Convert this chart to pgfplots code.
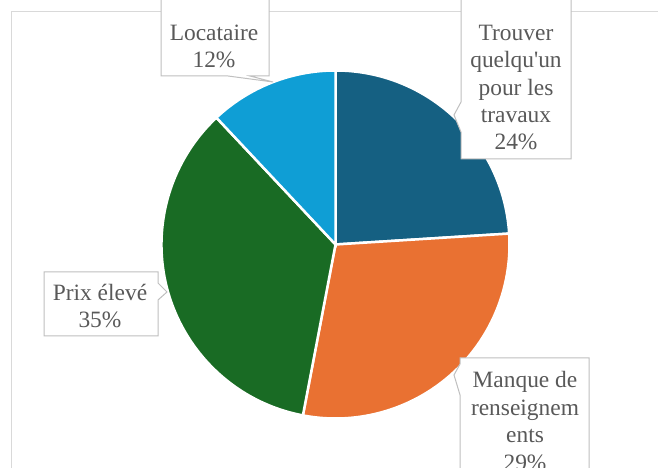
\documentclass[border=0pt]{standalone}
\usepackage{fontspec}
\setmainfont{Liberation Serif}[Ligatures=TeXOff]
\usepackage{pgfplots}
\usepackage{pgfplotstable}
\pgfplotsset{compat=1.18}

\definecolor{cTrouver}{HTML}{156082}
\definecolor{cManque}{HTML}{E97132}
\definecolor{cPrix}{HTML}{196B24}
\definecolor{cLoc}{HTML}{0F9ED5}
\definecolor{txt}{HTML}{595959}
\definecolor{boxline}{HTML}{BFBFBF}
\definecolor{frame}{HTML}{D9D9D9}

% share of each answer, in %
\pgfplotstableread[col sep=comma]{
label,value
Trouver,24
Manque,29
Prix,35
Locataire,12
}\piedata

\begin{document}
\begin{tikzpicture}
% slice angles, clockwise from 12 o'clock
\pgfplotstablegetelem{0}{value}\of\piedata \let\vA\pgfplotsretval
\pgfplotstablegetelem{1}{value}\of\piedata \let\vB\pgfplotsretval
\pgfplotstablegetelem{2}{value}\of\piedata \let\vC\pgfplotsretval
\pgfplotstablegetelem{3}{value}\of\piedata \let\vD\pgfplotsretval
\pgfmathsetmacro\aA{90}
\pgfmathsetmacro\aB{\aA-3.6*\vA}
\pgfmathsetmacro\aC{\aB-3.6*\vB}
\pgfmathsetmacro\aD{\aC-3.6*\vC}
\pgfmathsetmacro\aE{\aD-3.6*\vD}
\begin{axis}[
    scale only axis, width=658bp, height=468bp,
    x=1bp, y=1bp,
    xmin=0, xmax=658, ymin=0, ymax=468,
    hide axis,
    clip=true,
]
% chart frame
\draw[frame, line width=1bp] (axis cs:11,-20) -- (axis cs:11,456) -- (axis cs:680,456);
% wedges
\fill[cTrouver, draw=white, line width=2.5bp] (axis cs:335.5,223.5) -- ++(\aA:174bp) arc[start angle=\aA, end angle=\aB, radius=174bp] -- cycle;
\fill[cManque, draw=white, line width=2.5bp] (axis cs:335.5,223.5) -- ++(\aB:174bp) arc[start angle=\aB, end angle=\aC, radius=174bp] -- cycle;
\fill[cPrix, draw=white, line width=2.5bp] (axis cs:335.5,223.5) -- ++(\aC:174bp) arc[start angle=\aC, end angle=\aD, radius=174bp] -- cycle;
\fill[cLoc, draw=white, line width=2.5bp] (axis cs:335.5,223.5) -- ++(\aD:174bp) arc[start angle=\aD, end angle=\aE, radius=174bp] -- cycle;
% callouts (image y turned up: Y = 468 - y)
\filldraw[fill=white, draw=boxline, line width=1bp]
  (axis cs:161,470) -- (axis cs:161,392) -- (axis cs:228,392) -- (axis cs:273,386)
  -- (axis cs:250,392) -- (axis cs:269,392) -- (axis cs:269,470) -- cycle;
\filldraw[fill=white, draw=boxline, line width=1bp]
  (axis cs:461,470) -- (axis cs:461,366) -- (axis cs:454,353) -- (axis cs:461,336)
  -- (axis cs:461,309) -- (axis cs:571,309) -- (axis cs:571,470) -- cycle;
\filldraw[fill=white, draw=boxline, line width=1bp]
  (axis cs:44,196) -- (axis cs:158,196) -- (axis cs:158,185) -- (axis cs:167,176)
  -- (axis cs:158,168) -- (axis cs:158,132) -- (axis cs:44,132) -- cycle;
\filldraw[fill=white, draw=boxline, line width=1bp]
  (axis cs:460,-40) -- (axis cs:460,73) -- (axis cs:454,93) -- (axis cs:460,104)
  -- (axis cs:460,110) -- (axis cs:589,110) -- (axis cs:589,-40) -- cycle;
% labels
\begin{scope}[every node/.style={text=txt, align=center, font=\fontsize{23.5}{27.5}\selectfont, inner sep=0pt}]
\node at (axis cs:214,421.5) {Locataire\\12\%};
\node at (axis cs:516,380.5) {Trouver\\quelqu'un\\pour les\\travaux\\24\%};
\node at (axis cs:100,162) {Prix élevé\\35\%};
\node at (axis cs:525,47) {Manque de\\renseignem\\ents\\29\%};
\end{scope}
\end{axis}
\pgfresetboundingbox
\path[use as bounding box] (current axis.south west) rectangle (current axis.north east);
\end{tikzpicture}
\end{document}
